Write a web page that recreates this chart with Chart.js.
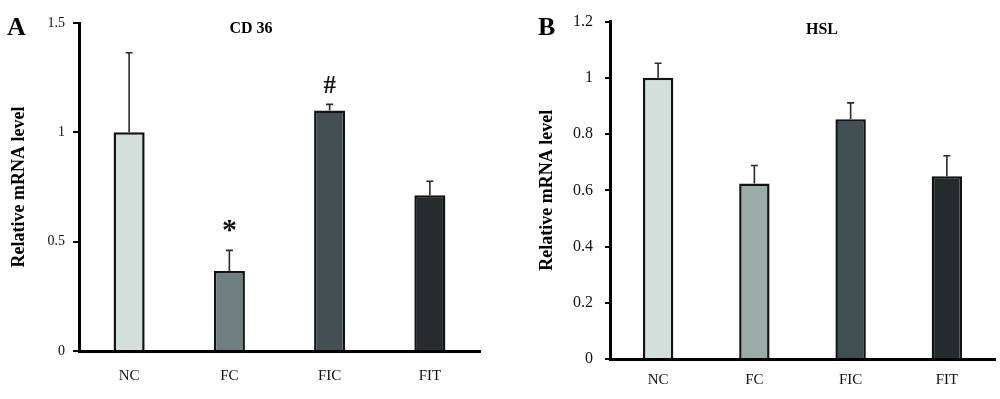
<!DOCTYPE html>
<html>
<head>
<meta charset="utf-8">
<script src="https://cdn.jsdelivr.net/npm/chart.js@4"></script>
<style>
  body { margin: 0; background: #fff; }
  #wrap { position: relative; width: 1000px; height: 399px; font-family: 'Liberation Serif', serif; }
  canvas { position: absolute; top: 0; }
  .panel { position: absolute; font-weight: bold; font-size: 26px; line-height: 1; }
  .title { position: absolute; font-weight: bold; font-size: 16px; line-height: 1; transform: translateX(-50%); }
</style>
</head>
<body>
<div id="wrap">
  <canvas id="cd36Chart" width="500" height="399" style="left:0"></canvas>
  <canvas id="hslChart" width="500" height="399" style="left:500px"></canvas>
  <div class="panel" style="left:7px; top:14px">A</div>
  <div class="panel" style="left:538px; top:14px">B</div>
  <div class="title" style="left:251px; top:20px">CD 36</div>
  <div class="title" style="left:822px; top:21px">HSL</div>
</div>
<script>
const groups = ['NC', 'FC', 'FIC', 'FIT'];

const cd36Values = [1.0, 0.366, 1.10, 0.712];
const cd36Errors = [0.364, 0.094, 0.028, 0.064];
const cd36Marks = ['', '*', '#', ''];
const cd36Colors = ['#d4dfdc', '#6f7e7e', '#434f52', '#262b2d'];

const hslValues = [1.0, 0.624, 0.853, 0.650];
const hslErrors = [0.052, 0.064, 0.058, 0.073];
const hslMarks = ['', '', '', ''];
const hslColors = ['#d4dfdc', '#9aaba8', '#424f52', '#252b2d'];

const serif = "'Liberation Serif', serif";

// error bars (upper whisker only) and significance marks
const errorBars = {
  id: 'errorBars',
  afterDatasetsDraw(chart, args, opts) {
    const { ctx } = chart;
    const yScale = chart.scales.y;
    const meta = chart.getDatasetMeta(0);
    ctx.save();
    meta.data.forEach((bar, i) => {
      const top = yScale.getPixelForValue(opts.values[i] + opts.errors[i]);
      ctx.strokeStyle = '#2a2a2a';
      ctx.lineWidth = 1.6;
      ctx.beginPath();
      ctx.moveTo(bar.x, bar.y);
      ctx.lineTo(bar.x, top);
      ctx.moveTo(bar.x - 3.5, top);
      ctx.lineTo(bar.x + 3.5, top);
      ctx.stroke();
      const mark = opts.marks[i];
      if (mark) {
        ctx.fillStyle = '#111';
        ctx.textAlign = 'center';
        ctx.textBaseline = 'alphabetic';
        if (mark === '*') {
          ctx.font = `bold 30px ${serif}`;
          ctx.fillText(mark, bar.x, top - 11);
        } else {
          ctx.font = `bold 25px ${serif}`;
          ctx.fillText(mark, bar.x, top - 11);
        }
      }
    });
    ctx.restore();
  }
};

function makeChart(id, values, errors, marks, colors, cfg) {
  return new Chart(document.getElementById(id), {
    type: 'bar',
    data: {
      labels: groups,
      datasets: [{
        data: values,
        backgroundColor: colors,
        borderColor: '#111414',
        borderWidth: 2.5,
        barPercentage: cfg.barPct,
        categoryPercentage: 1
      }]
    },
    options: {
      responsive: false,
      animation: false,
      events: [],
      layout: { padding: cfg.padding },
      plugins: {
        legend: { display: false },
        tooltip: { enabled: false },
        errorBars: { values, errors, marks }
      },
      scales: {
        x: {
          grid: { display: false, drawTicks: false },
          border: { color: '#000', width: 3 },
          ticks: { color: '#111', padding: cfg.xPad, font: { family: serif, size: 15 } },
          afterFit: s => { s.height = cfg.xHeight; }
        },
        y: {
          min: 0,
          max: cfg.max,
          ticks: {
            stepSize: cfg.step,
            color: '#111',
            padding: cfg.yPad,
            font: { family: serif, size: cfg.tickSize },
            callback: v => String(+v.toFixed(2))
          },
          grid: { drawOnChartArea: false, drawTicks: true, tickLength: cfg.tickLen, color: '#000', lineWidth: 2 },
          border: { color: '#000', width: 3 },
          title: {
            display: true,
            text: 'Relative mRNA level',
            color: '#000',
            font: { family: serif, size: 18, weight: 'bold' },
            padding: { top: cfg.titlePad, bottom: 0 }
          },
          afterFit: s => { s.width = cfg.yWidth; }
        }
      }
    },
    plugins: [errorBars]
  });
}

makeChart('cd36Chart', cd36Values, cd36Errors, cd36Marks, cd36Colors, {
  max: 1.5, step: 0.5, tickSize: 14, tickLen: 6, yPad: 8, xPad: 16,
  yWidth: 79, xHeight: 48, titlePad: 9, barPct: 0.31,
  padding: { left: 0, top: 23, right: 20, bottom: 0 }
});

makeChart('hslChart', hslValues, hslErrors, hslMarks, hslColors, {
  max: 1.2, step: 0.2, tickSize: 16, tickLen: 5, yPad: 12, xPad: 12,
  yWidth: 110, xHeight: 40, titlePad: 37, barPct: 0.316,
  padding: { left: 0, top: 13, right: 5, bottom: 0 }
});
</script>
</body>
</html>
